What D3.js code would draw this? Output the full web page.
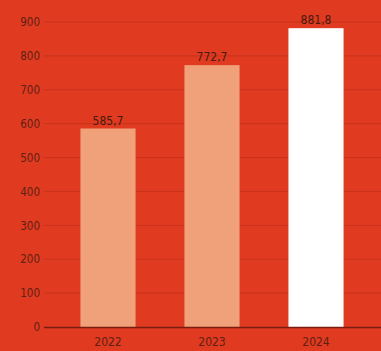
<!DOCTYPE html>
<html>
<head>
<meta charset="utf-8">
<script src="https://cdn.jsdelivr.net/npm/d3@7"></script>
<style>
  html, body { margin: 0; padding: 0; background: #e03b20; }
  svg { display: block; }
  text { font-family: "Liberation Sans Narrow", "DejaVu Sans Condensed", "Liberation Sans", sans-serif; }
</style>
</head>
<body>
<svg id="chart" width="381" height="351"></svg>
<script>
// Annual totals
const years = ["2022", "2023", "2024"];
const values = [585.7, 772.7, 881.8];
const valueLabels = ["585,7", "772,7", "881,8"];
const yTicks = [0, 100, 200, 300, 400, 500, 600, 700, 800, 900];

const barColors = ["#f0a17a", "#f0a17a", "#ffffff"];

const width = 381, height = 351;
const margin = { top: 22, right: 0, bottom: 24, left: 44 };

const svg = d3.select("#chart");

svg.append("rect")
  .attr("width", width).attr("height", height)
  .attr("fill", "#e03b20");

const y = d3.scaleLinear()
  .domain([0, 900])
  .range([327, 22]);

const x = d3.scaleBand()
  .domain(years)
  .range([56, 368])
  .paddingInner(0.47)
  .paddingOuter(0.235);

// Horizontal gridlines
svg.append("g")
  .selectAll("line")
  .data(yTicks.filter(d => d > 0))
  .join("line")
  .attr("x1", margin.left)
  .attr("x2", width)
  .attr("y1", d => y(d))
  .attr("y2", d => y(d))
  .attr("stroke", "#c8321c")
  .attr("stroke-width", 1);

// Y axis tick labels
const yAxis = d3.axisLeft(y).tickValues(yTicks).tickSize(0).tickPadding(0);
const gy = svg.append("g")
  .attr("transform", `translate(${margin.left - 4},0)`)
  .call(yAxis);
gy.select(".domain").remove();
gy.selectAll("text")
  .attr("fill", "#5e2014")
  .attr("font-size", 11.5)
  .attr("font-family", "'Liberation Sans Narrow', 'DejaVu Sans Condensed', sans-serif");

// Bars
svg.append("g")
  .selectAll("rect")
  .data(years)
  .join("rect")
  .attr("x", d => x(d))
  .attr("width", x.bandwidth())
  .attr("y", (d, i) => y(values[i]))
  .attr("height", (d, i) => y(0) - y(values[i]))
  .attr("fill", (d, i) => barColors[i]);

// Value labels above bars
svg.append("g")
  .selectAll("text")
  .data(years)
  .join("text")
  .attr("x", d => x(d) + x.bandwidth() / 2)
  .attr("y", (d, i) => y(values[i]) - 4)
  .attr("text-anchor", "middle")
  .attr("font-size", 12)
  .attr("fill", "#4a1a10")
  .text((d, i) => valueLabels[i]);

// Baseline
svg.append("line")
  .attr("x1", margin.left)
  .attr("x2", width)
  .attr("y1", y(0) + 0.5)
  .attr("y2", y(0) + 0.5)
  .attr("stroke", "#7a1c10")
  .attr("stroke-width", 1.5);

// X axis labels
const xAxis = d3.axisBottom(x).tickSize(0).tickPadding(0);
const gx = svg.append("g")
  .attr("transform", `translate(0,${y(0) + 9})`)
  .call(xAxis);
gx.select(".domain").remove();
gx.selectAll("text")
  .attr("fill", "#5e2014")
  .attr("font-size", 12)
  .attr("dy", "0.85em")
  .attr("font-family", "'Liberation Sans Narrow', 'DejaVu Sans Condensed', sans-serif");
</script>
</body>
</html>
